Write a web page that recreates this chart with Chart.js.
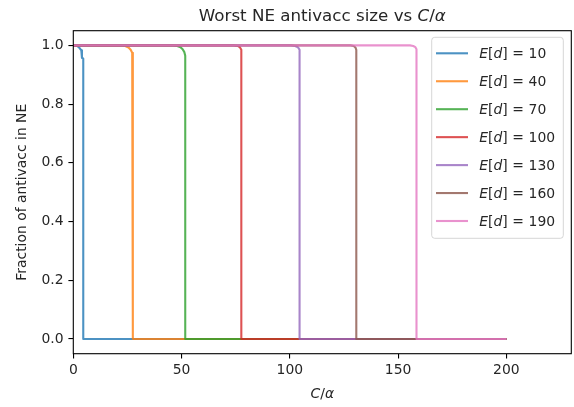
<!DOCTYPE html>
<html><head><meta charset="utf-8">
<script src="https://cdn.jsdelivr.net/npm/chart.js@4.4.0/dist/chart.umd.min.js"></script>
<style>html,body{margin:0;padding:0;background:#fff;} #wrap{width:574px;height:407px;}</style>
</head><body><div id="wrap"><canvas id="c" width="574" height="407"></canvas></div>
<script>
// ---- data ----
const seriesLabels = [10, 40, 70, 100, 130, 160, 190];
const seriesColors = ['#1f77b4', '#ff7f0e', '#2ca02c', '#d62728', '#9467bd', '#8c564b', '#e377c2'];

const x10  = [0, 1, 2, 3, 3.7, 4.0, 4.0, 4.6, 4.6, 200];
const y10  = [1, 1, 0.997, 0.99, 0.983, 0.975, 0.957, 0.955, 0, 0];
const x40  = [0, 22, 24, 25.5, 26.5, 27.2, 27.5, 27.5, 200];
const y40  = [1, 1, 0.998, 0.993, 0.985, 0.975, 0.96, 0, 0];
const x70  = [0, 46, 48, 49.5, 50.5, 51.3, 51.7, 51.7, 200];
const y70  = [1, 1, 0.998, 0.994, 0.987, 0.977, 0.965, 0, 0];
const x100 = [0, 74, 76, 77, 77.6, 77.6, 200];
const y100 = [1, 1, 0.998, 0.993, 0.985, 0, 0];
const x130 = [0, 100.5, 102.5, 103.8, 104.5, 104.5, 200];
const y130 = [1, 1, 0.998, 0.993, 0.985, 0, 0];
const x160 = [0, 128, 129.5, 130.3, 130.7, 130.7, 200];
const y160 = [1, 1, 0.998, 0.993, 0.985, 0, 0];
const x190 = [0, 155.5, 157, 158, 158.5, 158.5, 200];
const y190 = [1, 1, 0.998, 0.994, 0.987, 0, 0];

const seriesX = [x10, x40, x70, x100, x130, x160, x190];
const seriesY = [y10, y40, y70, y100, y130, y160, y190];

const xTicks = [0, 50, 100, 150, 200];
const yTicks = [0.0, 0.2, 0.4, 0.6, 0.8, 1.0];
const xRange = [0, 230];
const yRange = [-0.05, 1.05];

const titleParts = [['Worst NE antivacc size vs ', 0], ['C', 1], ['/', 0], ['\u03b1', 1]];
const xLabelParts = [['C', 1], ['/', 0], ['\u03b1', 1]];
const yLabel = 'Fraction of antivacc in NE';

// ---- helpers ----
const FAM = '"DejaVu Sans"';
const TXT = '#262626';
function rgba(hex, a) {
  const n = parseInt(hex.slice(1), 16);
  return `rgba(${(n >> 16) & 255},${(n >> 8) & 255},${n & 255},${a})`;
}
function drawParts(ctx, parts, x, y, align, size) {
  const fonts = parts.map(p => (p[1] ? 'italic ' : '') + size + 'px ' + FAM);
  let w = 0;
  parts.forEach((p, i) => {
    if (typeof p === 'number') { w += p; return; }
    ctx.font = fonts[i]; w += ctx.measureText(p[0]).width;
  });
  let cx = align === 'center' ? x - w / 2 : x;
  ctx.textAlign = 'left';
  parts.forEach((p, i) => {
    if (typeof p === 'number') { cx += p; return; }
    ctx.font = fonts[i]; ctx.fillText(p[0], cx, y); cx += ctx.measureText(p[0]).width;
  });
}

const datasets = seriesLabels.map((lab, i) => ({
  label: 'E[d] = ' + lab,
  data: seriesX[i].map((xv, j) => ({ x: xv, y: seriesY[i][j] })),
  borderColor: rgba(seriesColors[i], 0.8),
  backgroundColor: rgba(seriesColors[i], 0.8),
  borderWidth: 2.1,
  pointRadius: 0,
  tension: 0,
  fill: false,
  borderJoinStyle: 'round',
  borderCapStyle: 'butt',
  order: seriesLabels.length - i
}));

const decor = {
  id: 'decor',
  afterDatasetsDraw(chart) {
    const ctx = chart.ctx, a = chart.chartArea;
    ctx.save();
    // frame
    ctx.strokeStyle = '#000'; ctx.lineWidth = 1.1;
    ctx.strokeRect(a.left, a.top, a.right - a.left, a.bottom - a.top);
    // title
    ctx.fillStyle = TXT; ctx.textBaseline = 'alphabetic';
    drawParts(ctx, titleParts, (a.left + a.right) / 2, 20.7, 'center', 16.7);
    // x label
    drawParts(ctx, xLabelParts, (a.left + a.right) / 2, 398, 'center', 13.9);
    // legend
    const bx = 431.7, by = 37.3, bw = 131.6, bh = 201;
    ctx.beginPath();
    ctx.roundRect(bx, by, bw, bh, 3);
    ctx.fillStyle = 'rgba(255,255,255,0.8)'; ctx.fill();
    ctx.strokeStyle = 'rgba(204,204,204,0.8)'; ctx.lineWidth = 1; ctx.stroke();
    const y0 = 53.3, dy = 27.95;
    seriesLabels.forEach((lab, i) => {
      const yy = y0 + dy * i;
      ctx.strokeStyle = rgba(seriesColors[i], 0.8); ctx.lineWidth = 2.1;
      ctx.beginPath(); ctx.moveTo(436, yy); ctx.lineTo(468, yy); ctx.stroke();
      ctx.fillStyle = TXT; ctx.textBaseline = 'middle';
      drawParts(ctx, [['E', 1], ['[', 0], ['d', 1], [']', 0], 4.6, ['=', 0], 4.6, [String(lab), 0]], 479.3, yy + 1, 'left', 13.9);
    });
    ctx.restore();
  }
};

new Chart(document.getElementById('c'), {
  type: 'line',
  data: { datasets },
  options: {
    responsive: false,
    animation: false,
    events: [],
    devicePixelRatio: 1,
    layout: { padding: { left: 0, right: 2.7, top: 30.7, bottom: 0 } },
    plugins: { legend: { display: false }, title: { display: false }, tooltip: { enabled: false } },
    scales: {
      x: {
        type: 'linear', min: xRange[0], max: xRange[1],
        afterFit(s) { s.height = 53.3; },
        afterBuildTicks(s) { s.ticks = xTicks.map(v => ({ value: v })); },
        grid: { display: true, drawOnChartArea: false, drawTicks: true, tickLength: 4.9, tickColor: '#000', lineWidth: 1.1 },
        border: { display: false },
        ticks: { padding: 3, color: TXT, font: { family: 'DejaVu Sans', size: 13.9 }, maxRotation: 0, callback: v => String(v) }
      },
      y: {
        type: 'linear', min: yRange[0], max: yRange[1],
        afterFit(s) { s.width = 73.3; },
        afterBuildTicks(s) { s.ticks = yTicks.map(v => ({ value: v })); },
        grid: { display: true, drawOnChartArea: false, drawTicks: true, tickLength: 4.9, tickColor: '#000', lineWidth: 1.1 },
        border: { display: false },
        ticks: { padding: 4.9, color: TXT, font: { family: 'DejaVu Sans', size: 13.9 }, callback: v => v.toFixed(1) },
        title: { display: true, text: yLabel, color: TXT, font: { family: 'DejaVu Sans', size: 13.9 }, padding: { top: 14.2, bottom: 0 } }
      }
    }
  },
  plugins: [decor]
});
</script></body></html>
